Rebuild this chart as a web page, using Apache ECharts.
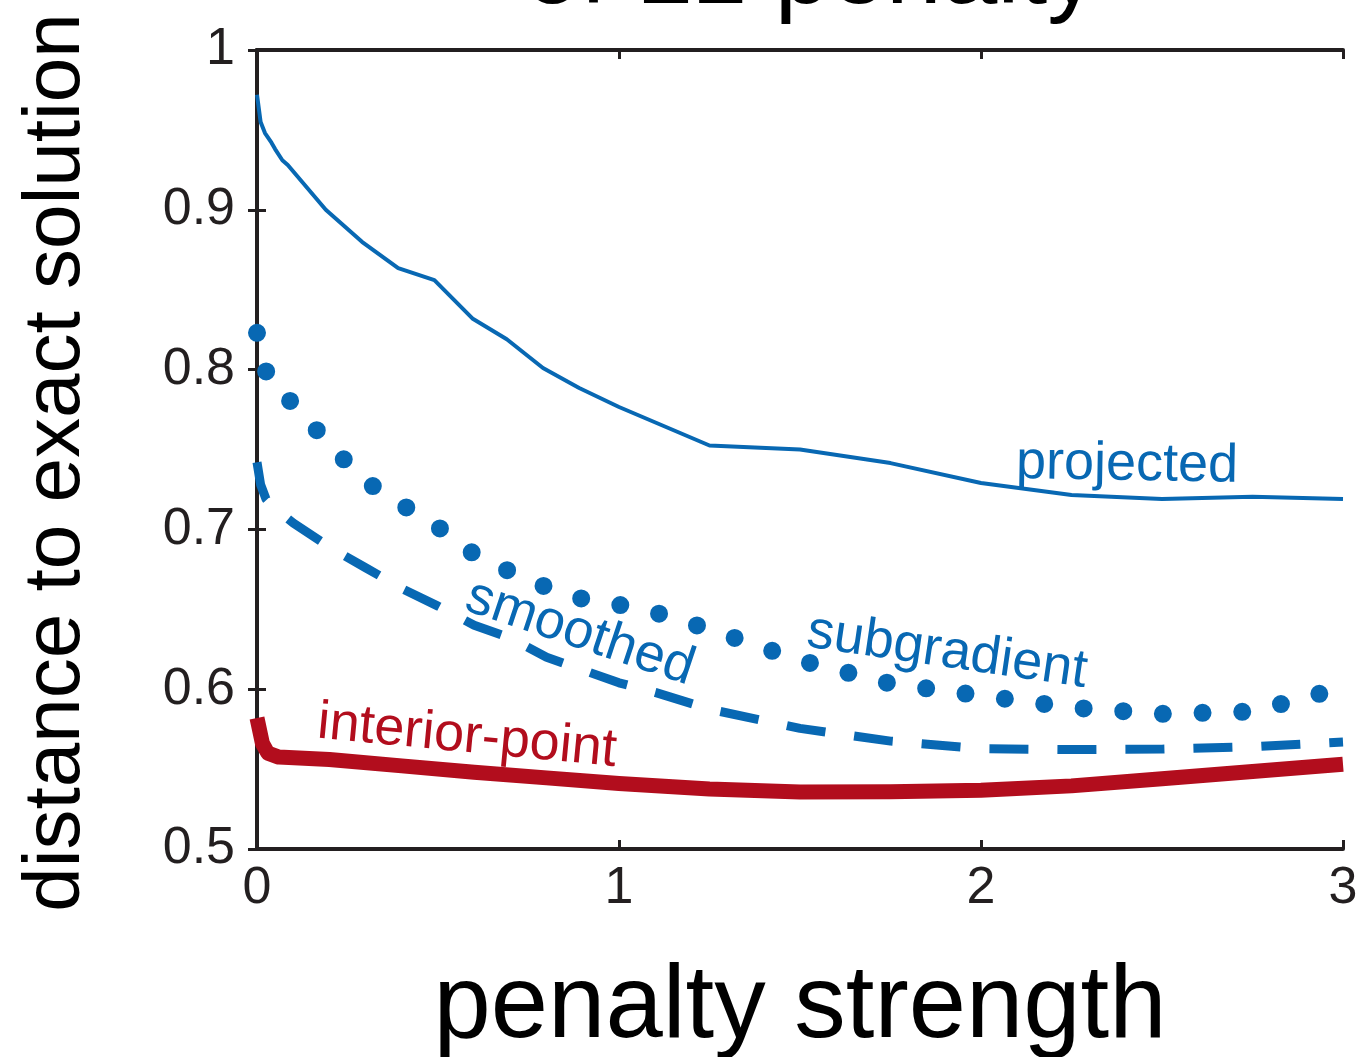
<!DOCTYPE html>
<html><head><meta charset="utf-8">
<script src="https://cdn.jsdelivr.net/npm/echarts@6/dist/echarts.min.js"></script>
<style>html,body{margin:0;padding:0;background:#fff;overflow:hidden}#c{width:1356px;height:1057px}</style>
</head><body><div id="c"></div>
<script>
// ---- data ----
const xTicks = [0, 1, 2, 3];
const yTicks = [0.5, 0.6, 0.7, 0.8, 0.9, 1];

const projectedX = [0, 0.01, 0.022, 0.04, 0.05, 0.07, 0.085, 0.19, 0.29, 0.39, 0.49, 0.595, 0.69, 0.79, 0.89, 1.0, 1.25, 1.5, 1.75, 2.0, 2.25, 2.5, 2.75, 3.0];
const projectedY = [0.972, 0.955, 0.948, 0.942, 0.938, 0.931, 0.928, 0.900, 0.880, 0.8635, 0.856, 0.832, 0.819, 0.801, 0.7885, 0.7766, 0.7525, 0.750, 0.7415, 0.729, 0.7215, 0.719, 0.7205, 0.719];

const subgradientX = [0, 0.025, 0.04, 0.1, 0.2, 0.3, 0.4, 0.5, 0.6, 0.7, 0.8, 0.9, 1.0, 1.1, 1.25, 1.5, 1.75, 2.0, 2.25, 2.5, 2.75, 3.0];
const subgradientY = [0.823, 0.799, 0.789, 0.779, 0.753, 0.730, 0.7155, 0.7015, 0.6845, 0.6735, 0.6638, 0.6565, 0.6528, 0.648, 0.6375, 0.618, 0.6035, 0.596, 0.5885, 0.5846, 0.586, 0.601];

const smoothedX = [0, 0.01, 0.025, 0.05, 0.1, 0.2, 0.3, 0.4, 0.5, 0.6, 0.7, 0.8, 0.9, 1.0, 1.1, 1.25, 1.5, 1.75, 2.0, 2.25, 2.5, 2.75, 3.0];
const smoothedY = [0.742, 0.728, 0.719, 0.713, 0.704, 0.689, 0.676, 0.663, 0.652, 0.640, 0.632, 0.620, 0.612, 0.604, 0.598, 0.5875, 0.5755, 0.5675, 0.5628, 0.5622, 0.5625, 0.564, 0.567];

const interiorX = [0, 0.015, 0.03, 0.06, 0.2, 0.4, 0.6, 0.8, 1.0, 1.25, 1.5, 1.75, 2.0, 2.25, 2.5, 2.75, 3.0];
const interiorY = [0.582, 0.566, 0.560, 0.5575, 0.556, 0.552, 0.548, 0.5445, 0.541, 0.5375, 0.5357, 0.5358, 0.5368, 0.5395, 0.544, 0.5485, 0.553];

const seriesNames = ['projected', 'subgradient', 'smoothed', 'interior-point'];
const titleText = 'of L1 penalty';
const xName = 'penalty strength';
const yName = 'distance to exact solution';

// ---- styles ----
const BLUE = '#0868b3';
const RED = '#b20d1d';
const INK = '#231f20';
const FONT = '"Liberation Sans", Arial, Helvetica, sans-serif';

function pairs(xs, ys) { return xs.map((x, i) => [x, ys[i]]); }

const chart = echarts.init(document.getElementById('c'), null, { renderer: 'canvas' });

const axisLine = { show: true, lineStyle: { color: INK, width: 4 } };
const axisTick = { show: true, inside: true, length: 9, lineStyle: { color: INK, width: 3 } };

chart.setOption({
  animation: false,
  backgroundColor: '#fff',
  title: {
    text: titleText, left: 806, textAlign: 'center', top: -80,
    textStyle: { fontFamily: FONT, fontSize: 100, fontWeight: 'normal', color: '#000' }
  },
  grid: { left: 257, right: 13, top: 50, bottom: 208, containLabel: false, outerBoundsMode: 'none' },
  xAxis: [
    {
      type: 'value', min: xTicks[0], max: xTicks[xTicks.length - 1], interval: 1, position: 'bottom',
      name: xName, nameLocation: 'middle', nameGap: 108,
      nameTextStyle: { fontFamily: FONT, fontSize: 103, color: '#000' },
      axisLine, axisTick, splitLine: { show: false },
      axisLabel: { fontFamily: FONT, fontSize: 52, color: INK, margin: 14 }
    },
    {
      type: 'value', min: xTicks[0], max: xTicks[xTicks.length - 1], interval: 1, position: 'top',
      axisLine, axisTick, splitLine: { show: false }, axisLabel: { show: false }
    }
  ],
  yAxis: [
    {
      type: 'value', min: yTicks[0], max: yTicks[yTicks.length - 1], interval: 0.1, position: 'left',
      name: yName, nameLocation: 'middle', nameGap: 160, nameRotate: 90,
      nameTextStyle: { fontFamily: FONT, fontSize: 80, color: '#000', padding: [0, 26, 0, 0] },
      axisLine, axisTick, splitLine: { show: false },
      axisLabel: { fontFamily: FONT, fontSize: 52, color: INK, margin: 22 }
    },
    {
      type: 'value', min: yTicks[0], max: yTicks[yTicks.length - 1], interval: 0.1, position: 'right',
      axisLine, axisTick, splitLine: { show: false }, axisLabel: { show: false }
    }
  ],
  series: [
    {
      name: seriesNames[0], type: 'line', data: pairs(projectedX, projectedY), showSymbol: false, clip: false,
      lineStyle: { color: BLUE, width: 4 }, z: 3
    },
    {
      name: seriesNames[1], type: 'line', data: pairs(subgradientX, subgradientY), showSymbol: false, clip: false,
      lineStyle: { color: BLUE, width: 18, type: [0, 39.7], cap: 'round' }, z: 3
    },
    {
      name: seriesNames[2], type: 'line', data: pairs(smoothedX, smoothedY), showSymbol: false, clip: false,
      lineStyle: { color: BLUE, width: 9, type: [39, 29], cap: 'butt' }, z: 3
    },
    {
      name: seriesNames[3], type: 'line', data: pairs(interiorX, interiorY), showSymbol: false, clip: false,
      lineStyle: { color: RED, width: 15, join: 'round' }, z: 3
    }
  ],
  graphic: [
    { type: 'text', x: 1127, y: 465, rotation: -0.018, z: 10,
      style: { text: seriesNames[0], font: '54px ' + FONT, fill: BLUE, align: 'center', verticalAlign: 'middle', textAlign: 'center', textVerticalAlign: 'middle' } },
    { type: 'text', x: 947, y: 652, rotation: -0.145, z: 10,
      style: { text: seriesNames[1], font: '54px ' + FONT, fill: BLUE, align: 'center', verticalAlign: 'middle', textAlign: 'center', textVerticalAlign: 'middle' } },
    { type: 'text', x: 580, y: 633, rotation: -0.323, z: 10,
      style: { text: seriesNames[2], font: '54px ' + FONT, fill: BLUE, align: 'center', verticalAlign: 'middle', textAlign: 'center', textVerticalAlign: 'middle' } },
    { type: 'text', x: 467, y: 737, rotation: -0.095, z: 10,
      style: { text: seriesNames[3], font: '54px ' + FONT, fill: RED, align: 'center', verticalAlign: 'middle', textAlign: 'center', textVerticalAlign: 'middle' } }
  ]
});
</script>
</body></html>
